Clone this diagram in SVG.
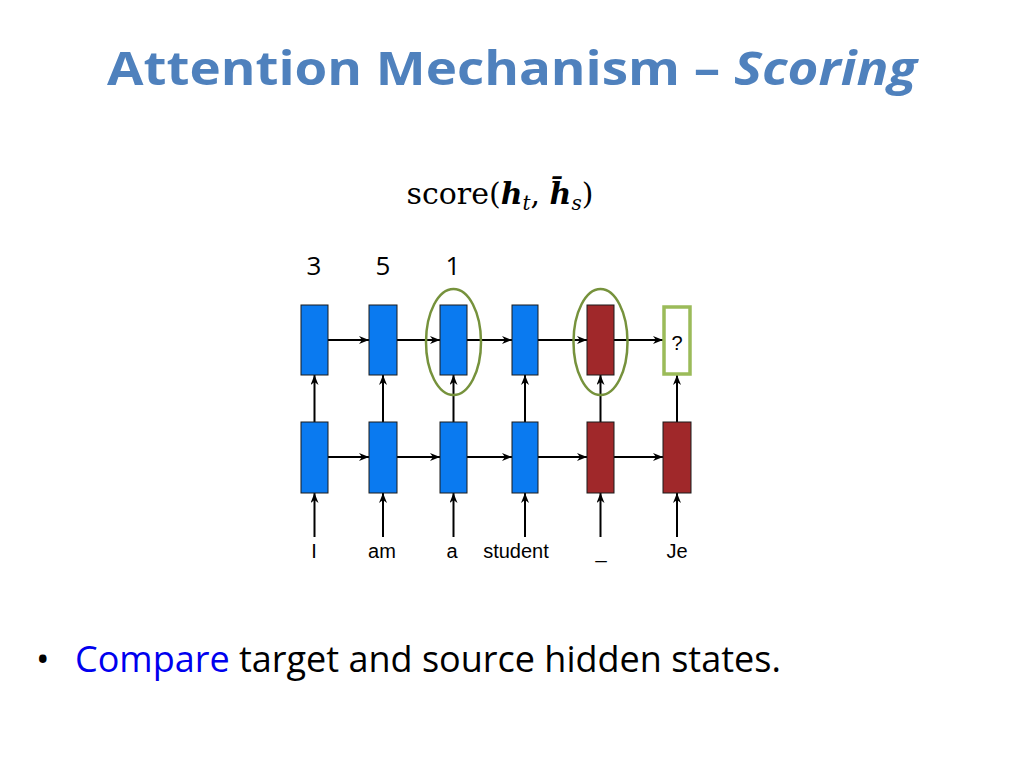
<svg xmlns="http://www.w3.org/2000/svg" width="1024" height="768" viewBox="0 0 1024 768">
<defs>
<marker id="ah" markerWidth="10" markerHeight="8" refX="10" refY="4" orient="auto" markerUnits="userSpaceOnUse"><path d="M0,0 L10,4 L0,8 L3,4 z" fill="#000"/></marker>
<style>
.b{fill:#0A7AF0;stroke:#1a1a1a;stroke-width:1}
.r{fill:#A0282A;stroke:#1a1a1a;stroke-width:1}
.c{stroke:#000;stroke-width:2;fill:none;marker-end:url(#ah)}
.lbl{font-family:"Liberation Sans",Arial,sans-serif;font-size:20px;text-anchor:middle}
.ell{fill:none;stroke:#76923C;stroke-width:2.5}
</style>
</defs>
<rect width="1024" height="768" fill="#fff"/>
<text x="512" y="85" text-anchor="middle" font-family="'Open Sans','Liberation Sans',sans-serif" font-weight="bold" font-size="47" fill="#4F81BD" textLength="810" lengthAdjust="spacingAndGlyphs">Attention Mechanism – <tspan font-style="italic">Scoring</tspan></text>
<text x="500" y="204" text-anchor="middle" font-family="'DejaVu Serif','Liberation Serif',serif" font-size="30" fill="#000">score(<tspan font-weight="bold" font-style="italic">h</tspan><tspan font-style="italic" font-size="20" dy="6">t</tspan><tspan dy="-6">, </tspan><tspan font-weight="bold" font-style="italic">h̄</tspan><tspan font-style="italic" font-size="20" dy="6">s</tspan><tspan dy="-6">)</tspan></text>
<g font-family="'Open Sans','Liberation Sans',sans-serif" font-size="26" text-anchor="middle">
<text x="314" y="275">3</text><text x="383" y="275">5</text><text x="453" y="275">1</text>
</g>
<g id="connectors">
<line class="c" x1="328" y1="340" x2="369" y2="340"/>
<line class="c" x1="397" y1="340" x2="440" y2="340"/>
<line class="c" x1="467" y1="340" x2="512" y2="340"/>
<line class="c" x1="538" y1="340" x2="587" y2="340"/>
<line class="c" x1="614" y1="340" x2="663" y2="340"/>
<line class="c" x1="328" y1="457" x2="369" y2="457"/>
<line class="c" x1="397" y1="457" x2="440" y2="457"/>
<line class="c" x1="467" y1="457" x2="512" y2="457"/>
<line class="c" x1="538" y1="457" x2="587" y2="457"/>
<line class="c" x1="614" y1="457" x2="663" y2="457"/>
<line class="c" x1="314.5" y1="422" x2="314.5" y2="375"/>
<line class="c" x1="383" y1="422" x2="383" y2="375"/>
<line class="c" x1="453.5" y1="422" x2="453.5" y2="375"/>
<line class="c" x1="525" y1="422" x2="525" y2="375"/>
<line class="c" x1="600.5" y1="422" x2="600.5" y2="375"/>
<line class="c" x1="677" y1="422" x2="677" y2="375"/>
<line class="c" x1="314.5" y1="537" x2="314.5" y2="493"/>
<line class="c" x1="383" y1="537" x2="383" y2="493"/>
<line class="c" x1="453.5" y1="537" x2="453.5" y2="493"/>
<line class="c" x1="525" y1="537" x2="525" y2="493"/>
<line class="c" x1="600.5" y1="537" x2="600.5" y2="493"/>
<line class="c" x1="677" y1="537" x2="677" y2="493"/>
</g>
<g id="top1"><rect class="b" x="301" y="305" width="27" height="70"/></g>
<g id="top2"><rect class="b" x="369" y="305" width="28" height="70"/></g>
<g id="top3"><rect class="b" x="440" y="305" width="27" height="70"/></g>
<g id="top4"><rect class="b" x="512" y="305" width="26" height="70"/></g>
<g id="top5"><rect class="r" x="587" y="305" width="27" height="70"/></g>
<g id="top6"><rect x="664" y="307" width="26" height="67" fill="#fff" stroke="#9BBB59" stroke-width="3.5"/><text class="lbl" x="677" y="350">?</text></g>
<g id="bot1"><rect class="b" x="301" y="422" width="27" height="71"/></g>
<g id="bot2"><rect class="b" x="369" y="422" width="28" height="71"/></g>
<g id="bot3"><rect class="b" x="440" y="422" width="27" height="71"/></g>
<g id="bot4"><rect class="b" x="512" y="422" width="26" height="71"/></g>
<g id="bot5"><rect class="r" x="587" y="422" width="27" height="71"/></g>
<g id="bot6"><rect class="r" x="663" y="422" width="28" height="71"/></g>
<ellipse class="ell" cx="453.5" cy="342" rx="27.5" ry="53"/>
<ellipse class="ell" cx="600.5" cy="342" rx="27" ry="53"/>
<g class="lbl">
<text x="314" y="558">I</text><text x="382" y="558">am</text><text x="452" y="558">a</text><text x="516" y="558">student</text><text x="601" y="558">_</text><text x="677" y="558">Je</text>
</g>
<text x="36" y="672" font-family="'Open Sans','Liberation Sans',sans-serif" font-size="36" fill="#000">•<tspan x="75" fill="#0000EE">Compare</tspan> target and source hidden states.</text>
</svg>
